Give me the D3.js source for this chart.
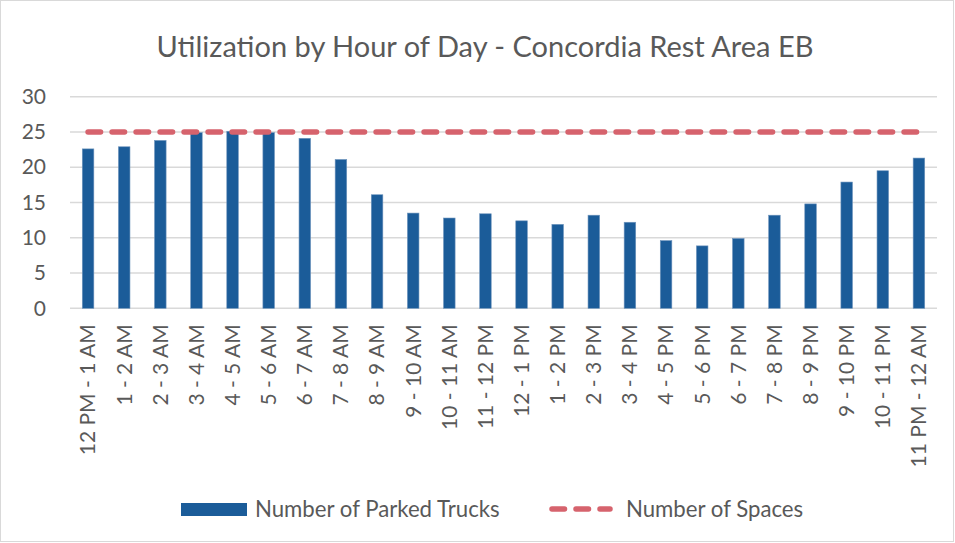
<!DOCTYPE html>
<html>
<head>
<meta charset="utf-8">
<script src="https://cdn.jsdelivr.net/npm/d3@7"></script>
<style>
  html, body { margin: 0; padding: 0; background: #fff; }
  svg { display: block; }
</style>
</head>
<body>
<svg id="chart" width="955" height="543"></svg>
<script>
// Hourly periods, in order
const hours = [
  "12 PM - 1 AM", "1 - 2 AM", "2 - 3 AM", "3 - 4 AM", "4 - 5 AM", "5 - 6 AM",
  "6 - 7 AM", "7 - 8 AM", "8 - 9 AM", "9 - 10 AM", "10 - 11 AM", "11 - 12 PM",
  "12 - 1 PM", "1 - 2 PM", "2 - 3 PM", "3 - 4 PM", "4 - 5 PM", "5 - 6 PM",
  "6 - 7 PM", "7 - 8 PM", "8 - 9 PM", "9 - 10 PM", "10 - 11 PM", "11 PM - 12 AM"
];

// Average number of trucks parked in each hour
const parkedTrucks = [
  22.6, 22.9, 23.8, 24.9, 25.1, 24.9, 24.1, 21.1, 16.1, 13.5, 12.8, 13.4,
  12.4, 11.9, 13.2, 12.2, 9.6, 8.85, 9.9, 13.2, 14.8, 17.9, 19.5, 21.3
];

// Truck parking capacity of the rest area
const spaces = hours.map(() => 25);

const yTicks = [0, 5, 10, 15, 20, 25, 30];

const title = "Utilization by Hour of Day - Concordia Rest Area EB";
const legendLabels = ["Number of Parked Trucks", "Number of Spaces"];

const barColor = "#1b5c99";
const lineColor = "#d6636d";
const gridColor = "#d9d9d9";
const textColor = "#595959";
const font = "Lato, 'Open Sans', sans-serif";

const svg = d3.select("#chart");
const W = 955, H = 543;

// Outer chart frame
svg.append("rect")
  .attr("x", 0.5).attr("y", 0.5)
  .attr("width", W - 2).attr("height", H - 2)
  .attr("fill", "#fff")
  .attr("stroke", gridColor);

const plot = { left: 70, right: 937, top: 96.7, bottom: 308.3 };

const x = d3.scaleBand()
  .domain(hours)
  .range([plot.left, plot.right])
  .paddingInner(0.68)
  .paddingOuter(0.34);

const y = d3.scaleLinear()
  .domain([0, 30])
  .range([plot.bottom, plot.top]);

// Title
svg.append("text")
  .attr("x", 485).attr("y", 57)
  .attr("text-anchor", "middle")
  .attr("font-family", font)
  .attr("font-size", 29)
  .attr("fill", textColor)
  .text(title);

// Horizontal gridlines
svg.append("g")
  .selectAll("line")
  .data(yTicks)
  .join("line")
  .attr("x1", plot.left).attr("x2", plot.right)
  .attr("y1", d => y(d)).attr("y2", d => y(d))
  .attr("stroke", gridColor)
  .attr("stroke-width", 1.5);

// Y axis labels
const yAxis = svg.append("g")
  .attr("transform", `translate(${plot.left},0)`)
  .call(d3.axisLeft(y).tickValues(yTicks).tickSize(0).tickPadding(24));
yAxis.select(".domain").remove();
yAxis.selectAll("text")
  .attr("font-family", font)
  .attr("font-size", 21)
  .attr("fill", textColor);

// X axis labels, rotated
const xAxis = svg.append("g")
  .attr("transform", `translate(0,${plot.bottom})`)
  .call(d3.axisBottom(x).tickSize(0));
xAxis.select(".domain").remove();
xAxis.selectAll("text")
  .attr("font-family", font)
  .attr("font-size", 21)
  .attr("fill", textColor)
  .attr("text-anchor", "end")
  .attr("dy", "0.35em")
  .attr("transform", "translate(0,16) rotate(-90)")
  .attr("x", 0).attr("y", 0);

// Bars
svg.append("g")
  .selectAll("rect")
  .data(parkedTrucks)
  .join("rect")
  .attr("x", (d, i) => x(hours[i]))
  .attr("y", d => y(d))
  .attr("width", x.bandwidth())
  .attr("height", d => y(0) - y(d))
  .attr("fill", barColor)
  .attr("stroke", "#6f95bd")
  .attr("stroke-width", 0.6);

// Capacity line
const line = d3.line()
  .x((d, i) => x(hours[i]) + x.bandwidth() / 2)
  .y(d => y(d));

svg.append("path")
  .datum(spaces)
  .attr("d", line)
  .attr("fill", "none")
  .attr("stroke", lineColor)
  .attr("stroke-width", 5.5)
  .attr("stroke-linecap", "round")
  .attr("stroke-dasharray", "12.5 11.5");

// Legend
const legend = svg.append("g").attr("font-family", font).attr("font-size", 22.2).attr("fill", textColor);
legend.append("rect")
  .attr("x", 181).attr("y", 503).attr("width", 66).attr("height", 13)
  .attr("fill", barColor);
legend.append("text")
  .attr("x", 255).attr("y", 509).attr("dy", "0.35em")
  .text(legendLabels[0]);
legend.append("line")
  .attr("x1", 552).attr("x2", 610).attr("y1", 509).attr("y2", 509)
  .attr("stroke", lineColor)
  .attr("stroke-width", 5.5)
  .attr("stroke-linecap", "round")
  .attr("stroke-dasharray", "12.5 11.5");
legend.append("text")
  .attr("x", 626).attr("y", 509).attr("dy", "0.35em")
  .text(legendLabels[1]);
</script>
</body>
</html>
